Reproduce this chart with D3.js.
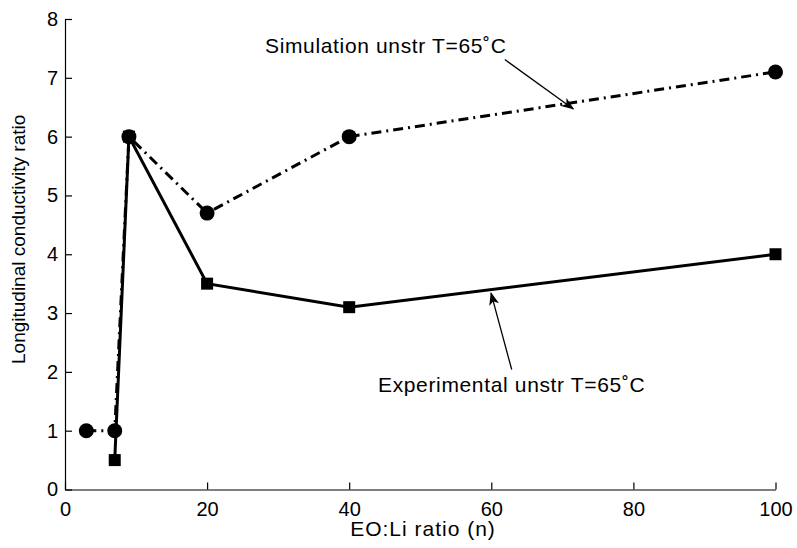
<!DOCTYPE html>
<html>
<head>
<meta charset="utf-8">
<script src="https://cdn.jsdelivr.net/npm/d3@7"></script>
<style>
  body { margin: 0; background: #fff; }
  text { font-family: "Liberation Sans", Arial, Helvetica, sans-serif; fill: #000; }
</style>
</head>
<body>
<svg id="chart" width="797" height="548"></svg>
<script>
// --- datos ---
const simN   = [3, 7, 9, 20, 40, 100];
const simVal = [1, 1, 6, 4.7, 6, 7.1];
const expN   = [7, 9, 20, 40, 100];
const expVal = [0.5, 6, 3.5, 3.1, 4];

const xTicks = [0, 20, 40, 60, 80, 100];
const yTicks = [0, 1, 2, 3, 4, 5, 6, 7, 8];

const xLabel = "EO:Li ratio (n)";
const yLabel = "Longitudinal conductivity ratio";

// anotaciones: texto y flecha en coordenadas de datos
const noteText  = ["Simulation unstr T=65˚C", "Experimental unstr T=65˚C"];
const noteAt    = [[28.15, 7.42], [44.05, 1.66]];
const arrowFrom = [[61.9, 7.31], [62.87, 2.04]];
const arrowTo   = [[71.54, 6.47], [59.96, 3.34]];

const svg = d3.select("#chart");

const x = d3.scaleLinear().domain([0, 100]).range([65, 775.5]);
const y = d3.scaleLinear().domain([0, 8]).range([489.5, 19]);

// flecha
svg.append("defs").append("marker")
  .attr("id", "arrow")
  .attr("viewBox", "0 -5 13 10")
  .attr("refX", 12).attr("refY", 0)
  .attr("markerWidth", 13).attr("markerHeight", 10)
  .attr("markerUnits", "userSpaceOnUse")
  .attr("orient", "auto")
  .append("path")
    .attr("d", "M0,-5L13,0L0,5L3.5,0Z")
    .attr("fill", "#000");

// ejes (ticks hacia dentro)
const gx = svg.append("g")
  .attr("transform", `translate(0,${y(0)})`)
  .call(d3.axisBottom(x).tickValues(xTicks).tickSizeInner(-7).tickSizeOuter(0).tickPadding(12));
const gy = svg.append("g")
  .attr("transform", `translate(${x(0)},0)`)
  .call(d3.axisLeft(y).tickValues(yTicks).tickSizeInner(-7).tickSizeOuter(0).tickPadding(7));

[gx, gy].forEach(g => {
  g.selectAll("path, line").attr("stroke", "#000").attr("stroke-width", 1.2);
  g.selectAll("text").style("font-family", "'Liberation Sans', Arial, sans-serif").style("font-size", "20px");
});

// títulos
svg.append("text")
  .attr("x", 423).attr("y", 536)
  .attr("text-anchor", "middle")
  .style("font-size", "21px")
  .style("letter-spacing", "1px")
  .text(xLabel);
svg.append("text")
  .attr("transform", `translate(25,364) rotate(-90)`)
  .attr("text-anchor", "start")
  .style("font-size", "19px")
  .text(yLabel);

// series
const simPts = simN.map((n, i) => [n, simVal[i]]);
const expPts = expN.map((n, i) => [n, expVal[i]]);
const line = d3.line().x(d => x(d[0])).y(d => y(d[1]));

svg.append("path")
  .attr("d", line(expPts))
  .attr("fill", "none").attr("stroke", "#000").attr("stroke-width", 3);
svg.append("path")
  .attr("d", line(simPts))
  .attr("fill", "none").attr("stroke", "#000").attr("stroke-width", 3)
  .attr("stroke-dasharray", "10,5,2,5");

svg.selectAll("rect.exp").data(expPts).enter().append("rect")
  .attr("class", "exp")
  .attr("x", d => x(d[0]) - 6).attr("y", d => y(d[1]) - 6)
  .attr("width", 12).attr("height", 12)
  .attr("fill", "#000");
svg.selectAll("circle.sim").data(simPts).enter().append("circle")
  .attr("class", "sim")
  .attr("cx", d => x(d[0])).attr("cy", d => y(d[1]))
  .attr("r", 7.5)
  .attr("fill", "#000");

// anotaciones
noteText.forEach((t, i) => {
  svg.append("text")
    .attr("x", x(noteAt[i][0])).attr("y", y(noteAt[i][1]))
    .style("font-size", "21px")
    .style("letter-spacing", "0.65px")
    .text(t);
  svg.append("line")
    .attr("x1", x(arrowFrom[i][0])).attr("y1", y(arrowFrom[i][1]))
    .attr("x2", x(arrowTo[i][0])).attr("y2", y(arrowTo[i][1]))
    .attr("stroke", "#000").attr("stroke-width", 1.3)
    .attr("marker-end", "url(#arrow)");
});
</script>
</body>
</html>
